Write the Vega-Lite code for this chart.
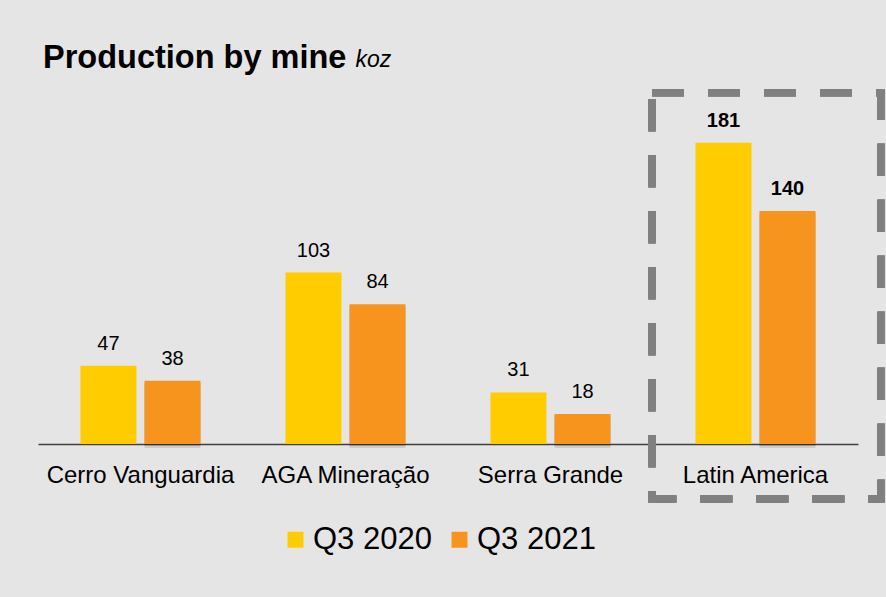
{
  "$schema": "https://vega.github.io/schema/vega-lite/v6.json",
  "width": 820,
  "height": 333,
  "autosize": {"type": "none"},
  "padding": {"left": 38, "top": 111, "right": 28, "bottom": 153},
  "background": "#e5e5e5",
  "config": {"view": {"stroke": null}, "font": "Liberation Sans"},
  "title": {
    "text": "Production by mine",
    "anchor": "start",
    "frame": "group",
    "fontSize": 32.5,
    "fontWeight": "bold",
    "color": "#000000",
    "font": "Liberation Sans",
    "baseline": "alphabetic",
    "dx": 5,
    "offset": -52
  },
  "data": {
    "values": [
      {"mine": "Cerro Vanguardia", "period": "Q3 2020", "value": 47},
      {"mine": "Cerro Vanguardia", "period": "Q3 2021", "value": 38},
      {"mine": "AGA Mineração", "period": "Q3 2020", "value": 103},
      {"mine": "AGA Mineração", "period": "Q3 2021", "value": 84},
      {"mine": "Serra Grande", "period": "Q3 2020", "value": 31},
      {"mine": "Serra Grande", "period": "Q3 2021", "value": 18},
      {"mine": "Latin America", "period": "Q3 2020", "value": 181},
      {"mine": "Latin America", "period": "Q3 2021", "value": 140}
    ]
  },
  "encoding": {
    "x": {
      "field": "mine",
      "type": "nominal",
      "sort": ["Cerro Vanguardia", "AGA Mineração", "Serra Grande", "Latin America"],
      "scale": {"paddingInner": 0, "paddingOuter": 0},
      "axis": {
        "title": null,
        "labelAngle": 0,
        "ticks": false,
        "domain": true,
        "domainColor": "#404040",
        "domainWidth": 1.5,
        "labelFontSize": 24,
        "labelColor": "#000000",
        "labelPadding": 19,
        "labelLimit": 400,
        "labelFont": "Liberation Sans"
      }
    }
  },
  "layer": [
    {
      "transform": [{"filter": "datum.period == 'Q3 2021'"}],
      "mark": {"type": "bar", "color": "#000000", "opacity": 0.1, "xOffset": 4, "yOffset": 4, "y2Offset": 4},
      "encoding": {
        "xOffset": {"field": "period", "type": "nominal", "scale": {"domain": ["Q3 2020", "Q3 2021"], "paddingInner": 0.125, "paddingOuter": 0.664}},
        "y": {"field": "value", "type": "quantitative", "scale": {"domain": [0, 200]}}
      }
    },
    {
      "transform": [{"filter": "datum.period == 'Q3 2021'"}],
      "mark": {"type": "bar", "color": "#000000", "opacity": 0.12, "xOffset": 2, "yOffset": 2, "y2Offset": 2},
      "encoding": {
        "xOffset": {"field": "period", "type": "nominal", "scale": {"domain": ["Q3 2020", "Q3 2021"], "paddingInner": 0.125, "paddingOuter": 0.664}},
        "y": {"field": "value", "type": "quantitative", "scale": {"domain": [0, 200]}}
      }
    },
    {
      "mark": {"type": "bar"},
      "encoding": {
        "xOffset": {"field": "period", "type": "nominal", "scale": {"domain": ["Q3 2020", "Q3 2021"], "paddingInner": 0.125, "paddingOuter": 0.664}},
        "y": {
          "field": "value",
          "type": "quantitative",
          "scale": {"domain": [0, 200]},
          "axis": {
            "title": "koz",
            "domain": false,
            "ticks": false,
            "labels": false,
            "grid": false,
            "titleAngle": 0,
            "titleX": 317,
            "titleY": -45,
            "titleAlign": "left",
            "titleBaseline": "alphabetic",
            "titleFontSize": 23,
            "titleFontStyle": "italic",
            "titleFontWeight": "normal",
            "titleColor": "#000000",
            "titleFont": "Liberation Sans"
          }
        },
        "color": {
          "field": "period",
          "type": "nominal",
          "scale": {"domain": ["Q3 2020", "Q3 2021"], "range": ["#FFCC00", "#F7941D"]},
          "legend": {
            "title": null,
            "orient": "none",
            "direction": "horizontal",
            "legendX": 242,
            "legendY": 413,
            "padding": 0,
            "symbolType": "square",
            "symbolSize": 256,
            "symbolStrokeWidth": 0,
            "labelFontSize": 31,
            "labelColor": "#000000",
            "labelFont": "Liberation Sans",
            "labelOffset": 2,
            "columnPadding": 12,
            "labelLimit": 300
          }
        }
      }
    },
    {
      "transform": [{"filter": "datum.mine != 'Latin America'"}],
      "mark": {"type": "text", "fontSize": 20, "baseline": "alphabetic", "dy": -16, "color": "#000000", "font": "Liberation Sans"},
      "encoding": {
        "xOffset": {"field": "period", "type": "nominal", "scale": {"domain": ["Q3 2020", "Q3 2021"], "paddingInner": 0.125, "paddingOuter": 0.664}},
        "y": {"field": "value", "type": "quantitative"},
        "text": {"field": "value", "type": "quantitative"}
      }
    },
    {
      "transform": [{"filter": "datum.mine == 'Latin America'"}],
      "mark": {"type": "text", "fontSize": 20, "fontWeight": "bold", "baseline": "alphabetic", "dy": -16, "color": "#000000", "font": "Liberation Sans"},
      "encoding": {
        "xOffset": {"field": "period", "type": "nominal", "scale": {"domain": ["Q3 2020", "Q3 2021"], "paddingInner": 0.125, "paddingOuter": 0.664}},
        "y": {"field": "value", "type": "quantitative"},
        "text": {"field": "value", "type": "quantitative"}
      }
    },
    {
      "mark": {"type": "rect", "fill": null, "filled": false, "stroke": "#808080", "strokeWidth": 7, "strokeDash": [32, 24], "clip": false, "width": 229, "xOffset": 11},
      "encoding": {
        "x": {"datum": "Latin America"},
        "y": {"datum": 211},
        "y2": {"datum": -33}
      }
    }
  ]
}
